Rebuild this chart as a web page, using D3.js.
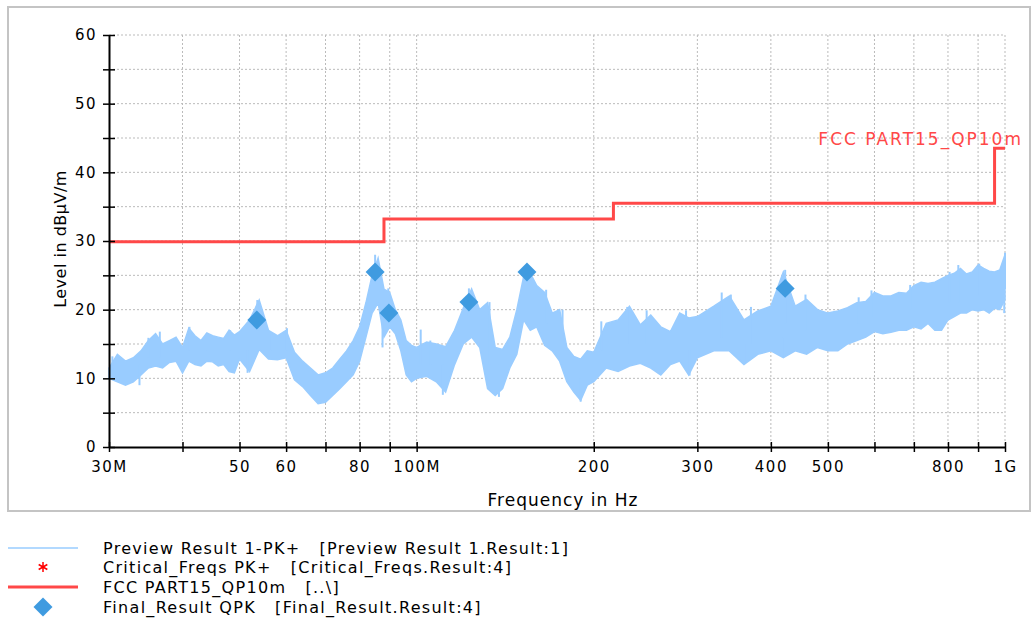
<!DOCTYPE html>
<html>
<head>
<meta charset="utf-8">
<script src="https://cdn.jsdelivr.net/npm/d3@7/dist/d3.min.js"></script>
<style>
body { margin: 0; background: #fff; }
text { font-family: "DejaVu Sans", sans-serif; font-size: 16px; fill: #000; }
</style>
</head>
<body>
<svg id="chart" width="1033" height="623"></svg>
<script>
// preview scan, frequency in MHz with upper / lower edge of the noisy trace (dBuV/m)
var previewFreq = [30, 31, 32, 33, 34, 35, 36, 37, 38, 39, 40, 41, 42, 43, 44, 45, 46, 47, 48, 49, 50,
    52, 54, 56, 58, 60, 62, 64, 66, 68, 70, 72, 74, 76, 78, 80, 82, 84, 86, 88, 90, 92, 94, 96, 98, 100,
    104, 108, 112, 116, 120, 124, 128, 132, 136, 140, 144, 148, 152, 156, 160,
    165, 170, 175, 180, 185, 190, 195, 200,
    210, 220, 230, 240, 250, 260, 270, 280, 290, 300,
    320, 340, 360, 380, 400,
    420, 440, 460, 480, 500, 520, 540, 560, 580, 600, 620, 640, 660, 680, 700,
    720, 740, 760, 780, 800, 820, 840, 860, 880, 900, 920, 940, 960, 980, 1000];
var previewHigh = [11.5, 13.5, 12.5, 13.0, 14.0, 15.5, 16.5, 15.0, 15.5, 16.0, 14.5, 17.3, 16.2, 15.5, 16.6, 16.2, 16.0, 15.8, 17.0, 16.3, 16.8,
    18.5, 21.4, 17.0, 16.2, 17.0, 13.8, 12.5, 11.5, 10.5, 10.8, 11.5, 12.8, 14.0, 15.5, 17.5, 21.0, 25.0, 27.5, 23.0, 22.5, 20.0, 18.5, 15.5, 14.8, 14.5,
    15.3, 15.0, 14.6, 17.0, 20.2, 23.0, 20.0, 21.0, 14.5, 14.2, 16.0, 20.0, 24.8, 25.3, 23.5,
    22.5, 19.5, 20.0, 14.5, 13.2, 12.8, 14.0, 13.8,
    18.0, 18.5, 20.5, 17.8, 19.2, 17.5, 16.8, 19.5, 18.8, 19.0,
    20.5, 22.0, 18.5, 19.8, 20.5,
    25.5, 20.5, 21.5, 20.0, 19.5, 19.8, 20.3, 21.0, 21.2, 22.5, 22.0, 22.0, 22.5, 22.4, 23.5,
    24.0, 23.8, 24.0, 24.5, 25.0, 25.3, 26.0, 25.2, 25.5, 26.5, 26.0, 25.6, 25.5, 25.8, 28.0];
var previewLow = [10.0, 9.5, 9.0, 9.5, 10.5, 11.5, 11.8, 11.5, 12.3, 12.5, 10.8, 12.5, 12.0, 11.8, 12.5, 12.4, 11.8, 12.0, 11.0, 10.8, 12.8,
    11.0, 14.2, 12.8, 12.7, 13.0, 9.8, 8.8, 7.5, 6.3, 6.5, 7.5, 8.5, 9.5, 10.5, 12.5, 16.0, 19.5, 21.0, 16.0, 17.5, 16.5, 14.0, 10.5, 9.5, 10.0,
    10.3, 9.5, 8.0, 12.0, 15.0, 16.0, 14.5, 8.5, 7.5, 8.5, 11.5, 13.5, 18.5, 17.0, 17.5,
    14.8, 14.0, 12.5, 9.5, 8.0, 6.8, 9.0, 9.5,
    11.5, 11.0, 11.8, 12.2, 11.5, 10.5, 12.0, 12.5, 10.5, 13.0,
    14.0, 14.0, 12.0, 13.5, 14.0,
    13.0, 14.0, 13.5, 14.5, 14.0, 14.0, 15.0, 15.5, 16.0, 16.8, 16.5, 16.7, 17.0, 17.0, 17.5,
    17.2, 18.0, 17.0, 17.0, 18.5, 19.0, 19.5, 19.5, 20.0, 19.8, 20.0, 19.5, 20.2, 20.0, 21.5];

// single narrow spikes / dips of the preview trace: frequency, start inside the band, tip
var spikeFreq = [30.4, 35, 36.6, 41.1, 44, 48.2, 53.6, 56.6, 60.2, 85, 89.5, 101.6, 105.5, 122.7,
    133, 154, 166, 177, 206, 228, 246, 287, 330, 342, 370, 423, 458, 564, 593, 690, 805, 833, 904, 1000,
    33.8, 51.6, 87.5, 110.8, 138, 190, 291, 361, 418, 997];
var spikeBase = [11, 13, 13, 14, 14, 14, 17, 14, 14, 24, 20, 12, 12, 19,
    12, 22, 18, 15, 14, 15, 15, 15, 16, 16, 15, 18, 17, 18, 19, 20, 21, 21, 22, 23,
    12, 14, 19, 12, 12, 10, 14, 15, 16, 22];
var spikeTip = [13.2, 15.9, 16.8, 17.5, 16.6, 17.0, 21.4, 16.6, 17.3, 28.0, 23.1, 17.1, 15.5, 23.1,
    21.1, 26.4, 22.9, 20.0, 18.3, 20.4, 19.9, 19.9, 22.5, 22.2, 20.4, 25.8, 22.2, 21.8, 22.8, 23.6, 25.5, 26.5, 26.7, 28.3,
    9.0, 10.8, 14.5, 7.6, 7.3, 6.6, 10.4, 12.2, 13.1, 19.5];

// FCC part 15 QP 10m limit, steps start at these frequencies
var limitFreq = [30, 88, 216, 960, 1000];
var limitLevel = [29.9, 33.2, 35.5, 43.5, 43.5];

// final QPK results
var finalFreq = [53.5, 85, 89.7, 122.7, 154, 423];
var finalLevel = [18.5, 25.5, 19.5, 21.1, 25.5, 23.1];

var yTicks = [0, 5, 10, 15, 20, 25, 30, 35, 40, 45, 50, 55, 60];
var xTicks = [30, 40, 50, 60, 70, 80, 90, 100, 200, 300, 400, 500, 600, 700, 800, 900, 1000];
var xTickLabels = {30: "30M", 50: "50", 60: "60", 80: "80", 100: "100M", 200: "200",
    300: "300", 400: "400", 500: "500", 800: "800", 1000: "1G"};

var legendLabels = [
    "Preview Result 1-PK+   [Preview Result 1.Result:1]",
    "Critical_Freqs PK+   [Critical_Freqs.Result:4]",
    "FCC PART15_QP10m   [..\\]",
    "Final_Result QPK   [Final_Result.Result:4]"];

var traceColor = "#99ccff",
    limitColor = "#ff4848",
    finalColor = "#3f9be0";

var svg = d3.select("#chart");

var plotLeft = 109, plotRight = 1005, plotTop = 35, plotBottom = 447;

var x = d3.scaleLog().domain([30, 1000]).range([plotLeft, plotRight]);
var y = d3.scaleLinear().domain([0, 60]).range([plotBottom, plotTop]);

// outer frame
svg.append("rect")
    .attr("x", 8).attr("y", 7)
    .attr("width", 1022).attr("height", 504)
    .attr("fill", "none")
    .attr("stroke", "#c4c4c4")
    .attr("stroke-width", 2);

// dotted grid
var grid = svg.append("g");
grid.selectAll(".gx")
    .data(xTicks.slice(1))
    .enter().append("line")
    .attr("x1", function (d) { return x(d); })
    .attr("x2", function (d) { return x(d); })
    .attr("y1", plotTop).attr("y2", plotBottom)
    .attr("stroke", "#bbbbbb")
    .attr("stroke-dasharray", "2,2");
grid.selectAll(".gy")
    .data(yTicks.slice(1))
    .enter().append("line")
    .attr("x1", plotLeft).attr("x2", plotRight)
    .attr("y1", function (d) { return y(d); })
    .attr("y2", function (d) { return y(d); })
    .attr("stroke", "#bbbbbb")
    .attr("stroke-dasharray", "2,2");

// preview trace as a filled band between its lower and upper edge
var band = previewFreq.map(function (f, i) { return [f, previewLow[i], previewHigh[i]]; });
svg.append("path")
    .datum(band)
    .attr("fill", traceColor)
    .attr("stroke", traceColor)
    .attr("stroke-width", 1.5)
    .attr("d", d3.area()
        .x(function (d) { return x(d[0]); })
        .y0(function (d) { return y(d[1]); })
        .y1(function (d) { return y(d[2]); }));

svg.append("g").selectAll("line")
    .data(spikeFreq)
    .enter().append("line")
    .attr("x1", function (d) { return x(d); })
    .attr("x2", function (d) { return x(d); })
    .attr("y1", function (d, i) { return y(spikeBase[i]); })
    .attr("y2", function (d, i) { return y(spikeTip[i]); })
    .attr("stroke", traceColor)
    .attr("stroke-width", 2);

// limit line
var limitData = limitFreq.map(function (f, i) { return [f, limitLevel[i]]; });
svg.append("path")
    .datum(limitData)
    .attr("fill", "none")
    .attr("stroke", limitColor)
    .attr("stroke-width", 3)
    .attr("d", d3.line()
        .curve(d3.curveStepAfter)
        .x(function (d) { return x(d[0]); })
        .y(function (d) { return y(d[1]); }));

svg.append("text")
    .attr("x", 1023)
    .attr("y", 145)
    .attr("text-anchor", "end")
    .style("fill", limitColor)
    .style("font-size", "17px")
    .style("letter-spacing", "2px")
    .text("FCC PART15_QP10m");

// final result diamonds
var diamond = d3.symbol().type(d3.symbolSquare).size(180);
svg.selectAll(".final")
    .data(finalFreq)
    .enter().append("path")
    .attr("d", diamond)
    .attr("fill", finalColor)
    .attr("transform", function (d, i) {
        return "translate(" + x(d) + "," + y(finalLevel[i]) + ")rotate(45)";
    });

// axes
var yAxis = svg.append("g")
    .attr("transform", "translate(" + plotLeft + ",0)")
    .call(d3.axisLeft(y)
        .tickValues(yTicks)
        .tickSizeInner(6)
        .tickSizeOuter(0)
        .tickPadding(6)
        .tickFormat(function (d) { return d % 10 == 0 ? d : ""; }));
yAxis.selectAll(".tick line").attr("x1", -6).attr("x2", 6).attr("stroke-width", 1.5);
yAxis.select(".domain").attr("stroke-width", 2);

var xAxis = svg.append("g")
    .attr("transform", "translate(0," + plotBottom + ")")
    .call(d3.axisBottom(x)
        .tickValues(xTicks)
        .tickSizeInner(5)
        .tickSizeOuter(0)
        .tickPadding(9)
        .tickFormat(function (d) { return xTickLabels[d] || ""; }));
xAxis.selectAll(".tick line").attr("y1", -5).attr("y2", 5).attr("stroke-width", 1.5);
xAxis.select(".domain").attr("stroke-width", 2);

svg.selectAll(".tick text")
    .style("font-family", '"DejaVu Sans", sans-serif')
    .style("font-size", "15px")
    .style("letter-spacing", "1.5px");

// axis titles
svg.append("text")
    .attr("x", 563)
    .attr("y", 506)
    .attr("text-anchor", "middle")
    .style("font-size", "17px")
    .style("letter-spacing", "1px")
    .text("Frequency in Hz");

svg.append("text")
    .attr("text-anchor", "middle")
    .attr("transform", "translate(66,239)rotate(-90)")
    .style("letter-spacing", "0.5px")
    .text("Level in dB\u00b5V/m");

// legend
var legend = svg.append("g");
var rowY = [548, 567, 587, 607];

legend.append("line")
    .attr("x1", 8).attr("x2", 78)
    .attr("y1", rowY[0]).attr("y2", rowY[0])
    .attr("stroke", traceColor).attr("stroke-width", 1.5);
legend.append("path")
    .attr("d", d3.symbol().type(d3.symbolAsterisk).size(70))
    .attr("transform", "translate(43," + rowY[1] + ")")
    .attr("fill", "none")
    .attr("stroke", "#ff0000")
    .attr("stroke-width", 1.5);
legend.append("line")
    .attr("x1", 8).attr("x2", 78)
    .attr("y1", rowY[2]).attr("y2", rowY[2])
    .attr("stroke", limitColor).attr("stroke-width", 3);
legend.append("path")
    .attr("d", diamond)
    .attr("fill", finalColor)
    .attr("transform", "translate(43," + rowY[3] + ")rotate(45)");

legend.selectAll(".label")
    .data(legendLabels)
    .enter().append("text")
    .attr("x", 103)
    .attr("y", function (d, i) { return rowY[i] + 6; })
    .attr("xml:space", "preserve")
    .style("white-space", "pre")
    .style("letter-spacing", "1.3px")
    .text(function (d) { return d; });
</script>
</body>
</html>
